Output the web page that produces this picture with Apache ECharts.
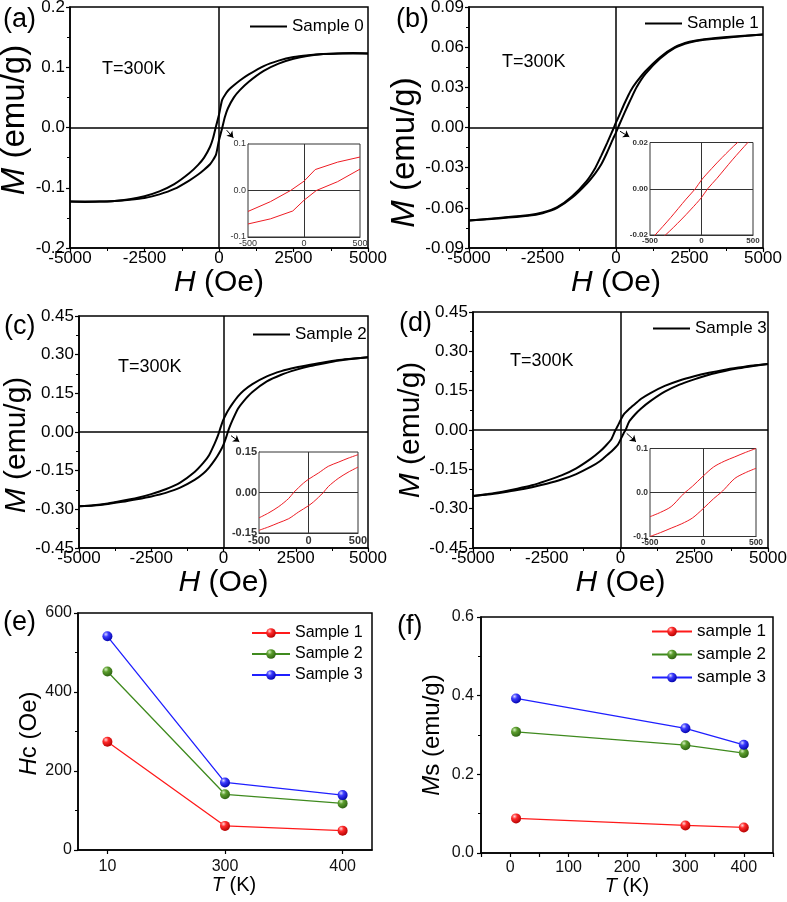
<!DOCTYPE html>
<html><head><meta charset="utf-8">
<script src="https://cdn.jsdelivr.net/npm/echarts@6/dist/echarts.min.js"></script>
<style>html,body{margin:0;padding:0;background:#fff}#c{width:787px;height:902px}</style>
</head><body><div id="c"></div>
<script>
// ---------- data ----------
// Sample 0 (a) main loop: descending branch (Up) and ascending branch (Dn)
const s0UpH = [5000,4500,4000,3500,3000,2500,2000,1500,1000,700,500,300,200,100,0,-100,-200,-300,-500,-700,-1000,-1500,-2000,-2500,-3000,-3500,-4000,-4500,-5000];
const s0UpM = [0.123,0.1235,0.123,0.122,0.120,0.117,0.111,0.102,0.088,0.078,0.070,0.061,0.054,0.045,0.021,0.002,-0.018,-0.032,-0.050,-0.062,-0.076,-0.094,-0.106,-0.114,-0.119,-0.122,-0.123,-0.123,-0.123];
const s0DnH = [-5000,-4500,-4000,-3500,-3000,-2500,-2000,-1500,-1000,-700,-500,-300,-200,-100,0,100,200,300,500,700,1000,1500,2000,2500,3000,3500,4000,4500,5000];
const s0DnM = [-0.123,-0.1235,-0.123,-0.122,-0.120,-0.117,-0.111,-0.102,-0.088,-0.078,-0.070,-0.061,-0.054,-0.045,-0.021,-0.002,0.018,0.032,0.050,0.062,0.076,0.094,0.106,0.114,0.119,0.122,0.123,0.123,0.123];
// Sample 1 (b)
const s1UpH = [5000,4000,3000,2500,2000,1500,1000,700,500,300,100,0,-100,-300,-500,-700,-1000,-1500,-2000,-2500,-3000,-4000,-5000];
const s1UpM = [0.0695,0.0680,0.0660,0.0640,0.0600,0.0525,0.0420,0.0340,0.0275,0.0185,0.0085,0.0038,-0.0015,-0.0115,-0.0210,-0.0300,-0.0400,-0.0515,-0.0595,-0.0635,-0.0655,-0.0675,-0.0695];
const s1DnH = [-5000,-4000,-3000,-2500,-2000,-1500,-1000,-700,-500,-300,-100,0,100,300,500,700,1000,1500,2000,2500,3000,4000,5000];
const s1DnM = [-0.0695,-0.0680,-0.0660,-0.0640,-0.0600,-0.0525,-0.0420,-0.0340,-0.0275,-0.0185,-0.0085,-0.0038,0.0015,0.0115,0.0210,0.0300,0.0400,0.0515,0.0595,0.0635,0.0655,0.0675,0.0695];
// Sample 2 (c)
const s2UpH = [5000,4500,4000,3500,3000,2500,2000,1500,1000,700,500,300,200,100,0,-100,-150,-200,-300,-500,-700,-1000,-1500,-2000,-2500,-3000,-3500,-4000,-4500,-5000];
const s2UpM = [0.290,0.285,0.279,0.271,0.261,0.250,0.236,0.216,0.186,0.161,0.138,0.108,0.091,0.072,0.049,0.018,0.000,-0.016,-0.043,-0.090,-0.120,-0.155,-0.196,-0.222,-0.241,-0.256,-0.267,-0.277,-0.284,-0.288];
const s2DnH = [-5000,-4500,-4000,-3500,-3000,-2500,-2000,-1500,-1000,-700,-500,-300,-200,-100,0,100,150,200,300,500,700,1000,1500,2000,2500,3000,3500,4000,4500,5000];
const s2DnM = [-0.288,-0.285,-0.279,-0.271,-0.261,-0.250,-0.236,-0.216,-0.186,-0.161,-0.138,-0.108,-0.091,-0.072,-0.049,-0.018,0.000,0.016,0.043,0.090,0.120,0.155,0.196,0.222,0.241,0.256,0.267,0.277,0.284,0.290];
// Sample 3 (d)
const s3UpH = [5000,4500,4000,3500,3000,2500,2000,1500,1000,700,500,300,100,0,-100,-170,-300,-500,-700,-1000,-1500,-2000,-2500,-3000,-3500,-4000,-4500,-5000];
const s3UpM = [0.252,0.246,0.238,0.229,0.218,0.205,0.189,0.168,0.140,0.119,0.100,0.081,0.058,0.037,0.014,0.000,-0.033,-0.060,-0.082,-0.109,-0.146,-0.173,-0.193,-0.211,-0.224,-0.235,-0.244,-0.252];
const s3DnH = [-5000,-4500,-4000,-3500,-3000,-2500,-2000,-1500,-1000,-700,-500,-300,-100,0,100,170,300,500,700,1000,1500,2000,2500,3000,3500,4000,4500,5000];
const s3DnM = [-0.252,-0.246,-0.238,-0.229,-0.218,-0.205,-0.189,-0.168,-0.140,-0.119,-0.100,-0.081,-0.058,-0.037,-0.014,0.000,0.033,0.060,0.082,0.109,0.146,0.173,0.193,0.211,0.224,0.235,0.244,0.252];
// insets (low-field zoom)
const inAUpH = [500,300,100,0,-120,-300,-500];
const inAUpM = [0.072,0.061,0.045,0.020,0.000,-0.024,-0.045];
const inADnH = [-500,-300,-100,0,110,300,500];
const inADnM = [-0.072,-0.061,-0.044,-0.021,0.000,0.019,0.046];
const inBUpH = [500,450,350,200,100,0,-60,-150,-300,-450,-500];
const inBUpM = [0.0255,0.0235,0.0200,0.0135,0.0088,0.0038,0.0000,-0.0045,-0.0125,-0.0200,-0.0223];
const inBDnH = [-500,-450,-350,-200,-100,0,60,150,300,450,500];
const inBDnM = [-0.0255,-0.0235,-0.0200,-0.0135,-0.0088,-0.0038,0.0000,0.0045,0.0125,0.0200,0.0223];
const inCUpH = [500,400,300,200,100,0,-50,-100,-150,-200,-300,-400,-500];
const inCUpM = [0.140,0.127,0.112,0.097,0.072,0.049,0.035,0.018,0.000,-0.022,-0.052,-0.075,-0.094];
const inCDnH = [-500,-400,-300,-200,-100,0,50,100,150,200,300,400,500];
const inCDnM = [-0.140,-0.127,-0.112,-0.097,-0.072,-0.049,-0.035,-0.018,0.000,0.022,0.052,0.075,0.094];
const inDUpH = [500,400,300,200,100,0,-100,-170,-200,-300,-400,-500];
const inDUpM = [0.100,0.091,0.081,0.071,0.058,0.037,0.014,0.000,-0.007,-0.032,-0.045,-0.055];
const inDDnH = [-500,-400,-300,-200,-100,0,100,170,200,300,400,500];
const inDDnM = [-0.100,-0.091,-0.081,-0.071,-0.058,-0.037,-0.014,0.000,0.007,0.032,0.045,0.055];
// (e) coercivity vs temperature
const tempCats = ['10','300','400'];
const hcS1 = [274,61,49];
const hcS2 = [452,141,118];
const hcS3 = [541,171,139];
// (f) saturation magnetization vs temperature
const tempK = [10,300,400];
const msS1 = [0.088,0.070,0.065];
const msS2 = [0.308,0.274,0.254];
const msS3 = [0.393,0.317,0.275];

// ---------- helpers ----------
const FONT = 'Liberation Sans, Arial, Helvetica, sans-serif';
const pairs = (H, M) => H.map((h, i) => [h, M[i]]);
const fmt = d => v => (Math.abs(v) < 1e-9 ? 0 : v).toFixed(d);
const plain = v => String(Math.round(v));
const rich = fs => ({ i: { fontSize: fs, fontStyle: 'italic', fontFamily: FONT, color: '#000' } });

function mainX(g, gap) {
  return { gridIndex: g, type: 'value', min: -5000, max: 5000, interval: 2500,
    name: '{i|H} (Oe)', nameLocation: 'middle', nameGap: gap,
    nameTextStyle: { fontSize: 30, fontFamily: FONT, color: '#000', rich: rich(30) },
    axisLine: { onZero: false, lineStyle: { color: '#000', width: 1.5 } },
    axisTick: { length: 4, lineStyle: { color: '#000', width: 1.2 } },
    minorTick: { show: true, splitNumber: 2, length: 3, lineStyle: { color: '#000', width: 1 } },
    splitLine: { show: false }, minorSplitLine: { show: false },
    axisLabel: { fontSize: 17, color: '#000', margin: 2, fontFamily: FONT, formatter: plain } };
}
function mainY(g, lim, step, d, gap, pad, fs) {
  return { gridIndex: g, type: 'value', min: -lim, max: lim, interval: step,
    name: '{i|M} (emu/g)', nameLocation: 'middle', nameGap: gap,
    nameTextStyle: { fontSize: fs, fontFamily: FONT, color: '#000', padding: pad, rich: rich(fs) },
    axisLine: { onZero: false, lineStyle: { color: '#000', width: 1.5 } },
    axisTick: { length: 4, lineStyle: { color: '#000', width: 1.2 } },
    minorTick: { show: true, splitNumber: 2, length: 3, lineStyle: { color: '#000', width: 1 } },
    splitLine: { show: false }, minorSplitLine: { show: false },
    axisLabel: { fontSize: 17, color: '#000', margin: 5, fontFamily: FONT, formatter: fmt(d) } };
}
function insetX(g, fs, bold) {
  return { gridIndex: g, type: 'value', min: -500, max: 500, interval: 500,
    axisLine: { onZero: false, lineStyle: { color: '#333', width: 1 } }, axisTick: { show: false },
    splitLine: { show: false },
    axisLabel: { fontSize: fs, fontWeight: bold ? 'bold' : 'normal', color: '#333', margin: 2, fontFamily: FONT, formatter: plain } };
}
function insetY(g, lim, step, d, fs, bold) {
  return { gridIndex: g, type: 'value', min: -lim, max: lim, interval: step,
    axisLine: { onZero: false, lineStyle: { color: '#333', width: 1 } }, axisTick: { show: false },
    splitLine: { show: false },
    axisLabel: { fontSize: fs, fontWeight: bold ? 'bold' : 'normal', color: '#333', margin: 2, fontFamily: FONT, formatter: fmt(d) } };
}
const zeroLines = (color, w) => ({ silent: true, symbol: 'none', label: { show: false }, emphasis: { disabled: true },
  lineStyle: { color, width: w, type: 'solid' }, data: [{ yAxis: 0 }, { xAxis: 0 }] });
const arrow = (p0, p1) => ({ silent: true, symbol: ['none', 'arrow'], symbolSize: 6, label: { show: false }, emphasis: { disabled: true },
  lineStyle: { color: '#000', width: 1, type: 'solid' }, data: [[{ coord: p0 }, { coord: p1 }]] });

function loop(idx, name, up, dn, zl, arr) {
  const base = { type: 'line', xAxisIndex: idx, yAxisIndex: idx, name, symbol: 'none', showSymbol: false,
    smooth: 0.2, lineStyle: { color: '#000', width: 2 }, itemStyle: { color: '#000' }, z: 3 };
  return [Object.assign({}, base, { data: up, markLine: zl }), Object.assign({}, base, { data: dn, markLine: arr })];
}
function inset(idx, up, dn, smooth) {
  const base = { type: 'line', xAxisIndex: idx, yAxisIndex: idx, symbol: 'none', showSymbol: false, smooth,
    lineStyle: { color: '#ee1c24', width: 1 }, itemStyle: { color: '#ee1c24' }, z: 5 };
  return [Object.assign({}, base, { name: 'in' + idx + 'u', data: up, markLine: zeroLines('#333', 1) }),
          Object.assign({}, base, { name: 'in' + idx + 'd', data: dn })];
}
const ball = (hi, mid, dark) => ({ type: 'radial', x: 0.35, y: 0.3, r: 0.75,
  colorStops: [{ offset: 0, color: hi }, { offset: 0.35, color: mid }, { offset: 1, color: dark }] });
const RED = ['#ffd6d6', '#ff2a2a', '#b00000', '#ff1a1a'];
const GRN = ['#d6f0c0', '#5c9e2e', '#2c6010', '#3f8a1e'];
const BLU = ['#d6d6ff', '#3a3aff', '#0000a8', '#1f1fff'];
function pt(idx, name, data, c) {
  return { type: 'line', xAxisIndex: idx, yAxisIndex: idx, name, data, symbol: 'circle', symbolSize: 10, showSymbol: true,
    lineStyle: { color: c[3], width: 1.3 }, itemStyle: { color: ball(c[0], c[1], c[2]) }, z: 4 };
}

const gridBase = { show: true, borderColor: '#000', borderWidth: 1.5, backgroundColor: 'transparent', containLabel: false, outerBoundsMode: 'none' };
const insetBase = { show: true, borderColor: '#333', borderWidth: 1, backgroundColor: '#fff', containLabel: false, outerBoundsMode: 'none', z: 4 };
const g = (o, b) => Object.assign({}, b, o);

const legBase = { selectedMode: false, padding: 0, itemGap: 4, formatter: n => n.slice(2),
  textStyle: { fontSize: 17, color: '#000', fontFamily: FONT } };
const lineLeg = (name, left, top) => Object.assign({}, legBase, { data: [name], left, top, icon: 'rect', itemWidth: 37, itemHeight: 2 });

const label = (text, x, y, fs) => ({ type: 'text', x, y, style: { text, fontSize: fs, fontFamily: FONT, fill: '#000', verticalAlign: 'middle', align: 'left' }, z: 20 });

const option = {
  animation: false,
  backgroundColor: '#fff',
  textStyle: { fontFamily: FONT },
  grid: [
    g({ left: 70, top: 7, width: 298, height: 241 }, gridBase),
    g({ left: 469, top: 7, width: 294, height: 241 }, gridBase),
    g({ left: 79, top: 316, width: 289, height: 232 }, gridBase),
    g({ left: 473, top: 312, width: 295, height: 236 }, gridBase),
    g({ left: 248, top: 144, width: 112, height: 93 }, insetBase),
    g({ left: 650, top: 142.5, width: 103, height: 92.5 }, insetBase),
    g({ left: 259, top: 452, width: 99, height: 81 }, insetBase),
    g({ left: 650, top: 448.5, width: 106, height: 88 }, insetBase),
    g({ left: 78, top: 613, width: 294, height: 237 }, gridBase),
    g({ left: 481, top: 617, width: 292, height: 236 }, gridBase)
  ],
  xAxis: [
    mainX(0, 15), mainX(1, 16), mainX(2, 14), mainX(3, 16),
    insetX(4, 9, false), insetX(5, 8, true), insetX(6, 11, true), insetX(7, 8.5, true),
    { gridIndex: 8, type: 'value', min: -0.25, max: 2.25, interval: 0.25,
      name: '{i|T} (K)', nameLocation: 'middle', nameGap: 24,
      nameTextStyle: { fontSize: 20, fontFamily: FONT, color: '#000', padding: [0, 0, 0, 18], rich: rich(20) },
      axisLine: { onZero: false, lineStyle: { color: '#000', width: 1.5 } },
      axisTick: { customValues: [0, 1, 2], length: 4, lineStyle: { color: '#000', width: 1.2 } },
      splitLine: { show: false },
      axisLabel: { customValues: [0, 1, 2], fontSize: 16, color: '#111', margin: 9, fontFamily: FONT,
        formatter: v => (Math.abs(v - Math.round(v)) < 1e-6 && tempCats[Math.round(v)] !== undefined) ? tempCats[Math.round(v)] : '' } },
    { gridIndex: 9, type: 'value', min: -50, max: 450, interval: 50,
      name: '{i|T} (K)', nameLocation: 'middle', nameGap: 21,
      nameTextStyle: { fontSize: 20, fontFamily: FONT, color: '#000', rich: rich(20) },
      axisLine: { onZero: false, lineStyle: { color: '#000', width: 1.5 } },
      axisTick: { length: 4, lineStyle: { color: '#000', width: 1.2 } },
      splitLine: { show: false },
      axisLabel: { customValues: [0, 100, 200, 300, 400], fontSize: 16, color: '#111', margin: 7, fontFamily: FONT,
        formatter: v => (v >= 0 && v <= 400 && v % 100 === 0) ? String(v) : '' } }
  ],
  yAxis: [
    mainY(0, 0.2, 0.1, 1, 35, [0, 0, 0, 15], 33),
    mainY(1, 0.09, 0.03, 2, 45, [0, 50, 0, 0], 33),
    mainY(2, 0.45, 0.15, 2, 47, [0, 26, 0, 0], 30),
    mainY(3, 0.45, 0.15, 2, 42, [0, 0, 0, 0], 30),
    insetY(4, 0.1, 0.1, 1, 9, false), insetY(5, 0.02, 0.02, 2, 8, true),
    insetY(6, 0.15, 0.15, 2, 11, true), insetY(7, 0.1, 0.1, 1, 8.5, true),
    { gridIndex: 8, type: 'value', min: 0, max: 600, interval: 200,
      name: '{i|H}c (Oe)', nameLocation: 'middle', nameGap: 34,
      nameTextStyle: { fontSize: 24, fontFamily: FONT, color: '#000', padding: [0, 4, 0, 0], rich: rich(24) },
      axisLine: { onZero: false, lineStyle: { color: '#000', width: 1.5 } },
      axisTick: { length: 4, lineStyle: { color: '#000', width: 1.2 } },
      minorTick: { show: true, splitNumber: 2, length: 3, lineStyle: { color: '#000', width: 1 } },
      splitLine: { show: false },
      axisLabel: { fontSize: 16, color: '#111', margin: 6, fontFamily: FONT } },
    { gridIndex: 9, type: 'value', min: 0, max: 0.6, interval: 0.2,
      name: '{i|M}s (emu/g)', nameLocation: 'middle', nameGap: 37,
      nameTextStyle: { fontSize: 24, fontFamily: FONT, color: '#000', rich: rich(24) },
      axisLine: { onZero: false, lineStyle: { color: '#000', width: 1.5 } },
      axisTick: { length: 4, lineStyle: { color: '#000', width: 1.2 } },
      minorTick: { show: true, splitNumber: 2, length: 3, lineStyle: { color: '#000', width: 1 } },
      splitLine: { show: false },
      axisLabel: { fontSize: 16, color: '#111', margin: 7, fontFamily: FONT, formatter: fmt(1) } }
  ],
  legend: [
    lineLeg('a:Sample 0', 250, 18),
    lineLeg('b:Sample 1', 645, 15),
    lineLeg('c:Sample 2', 253, 326),
    lineLeg('d:Sample 3', 653, 320),
    Object.assign({}, legBase, { data: ['e:Sample 1', 'e:Sample 2', 'e:Sample 3'], orient: 'vertical', left: 251, top: 625,
      itemWidth: 38, itemHeight: 12, itemGap: 5, textStyle: { fontSize: 16, color: '#000', fontFamily: FONT, lineHeight: 16 } }),
    Object.assign({}, legBase, { data: ['f:sample 1', 'f:sample 2', 'f:sample 3'], orient: 'vertical', left: 651, top: 623,
      itemWidth: 40, itemHeight: 12, itemGap: 6, textStyle: { fontSize: 17, color: '#000', fontFamily: FONT, lineHeight: 16 } })
  ],
  graphic: [
    label('(a)', 3, 20, 27), label('(b)', 396, 20, 27), label('(c)', 4, 327, 27),
    label('(d)', 399, 324, 27), label('(e)', 3, 623, 27), label('(f)', 397, 627, 27),
    label('T=300K', 102, 69, 18), label('T=300K', 502, 62, 18),
    label('T=300K', 118, 367, 18), label('T=300K', 510, 361, 18)
  ],
  series: [].concat(
    loop(0, 'a:Sample 0', pairs(s0UpH, s0UpM), pairs(s0DnH, s0DnM), zeroLines('#000', 1.5), arrow([258, -0.0045], [480, -0.017])),
    loop(1, 'b:Sample 1', pairs(s1UpH, s1UpM), pairs(s1DnH, s1DnM), zeroLines('#000', 1.5), arrow([136, -0.0028], [452, -0.007])),
    loop(2, 'c:Sample 2', pairs(s2UpH, s2UpM), pairs(s2DnH, s2DnM), zeroLines('#000', 1.5), arrow([260, -0.0143], [547, -0.0376])),
    loop(3, 'd:Sample 3', pairs(s3UpH, s3UpM), pairs(s3DnH, s3DnM), zeroLines('#000', 1.5), arrow([210, -0.0128], [525, -0.045])),
    inset(4, pairs(inAUpH, inAUpM), pairs(inADnH, inADnM), false),
    inset(5, pairs(inBUpH, inBUpM), pairs(inBDnH, inBDnM), 0.3),
    inset(6, pairs(inCUpH, inCUpM), pairs(inCDnH, inCDnM), 0.3),
    inset(7, pairs(inDUpH, inDUpM), pairs(inDDnH, inDDnM), 0.3),
    [pt(8, 'e:Sample 1', tempCats.map((c, i) => [i, hcS1[i]]), RED),
     pt(8, 'e:Sample 2', tempCats.map((c, i) => [i, hcS2[i]]), GRN),
     pt(8, 'e:Sample 3', tempCats.map((c, i) => [i, hcS3[i]]), BLU),
     pt(9, 'f:sample 1', tempK.map((t, i) => [t, msS1[i]]), RED),
     pt(9, 'f:sample 2', tempK.map((t, i) => [t, msS2[i]]), GRN),
     pt(9, 'f:sample 3', tempK.map((t, i) => [t, msS3[i]]), BLU)]
  )
};
const chart = echarts.init(document.getElementById('c'), null, { renderer: 'canvas' });
chart.setOption(option);
</script>
</body></html>
